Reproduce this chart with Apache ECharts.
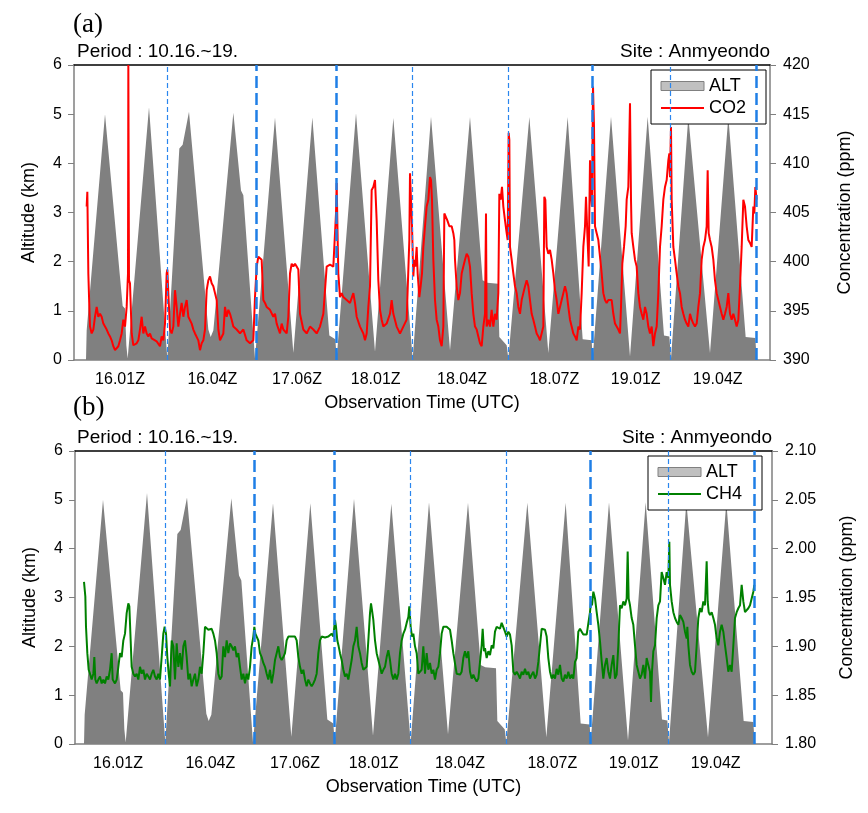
<!DOCTYPE html>
<html><head><meta charset="utf-8">
<script src="https://cdn.jsdelivr.net/npm/echarts@6/dist/echarts.min.js"></script>
<style>html,body{margin:0;padding:0;background:#fff}#c{width:868px;height:813px}</style>
</head><body><div id="c"></div>
<script>
// x = observation sample index (shared by both panels), altitude in km
const altitudeKm = [[78,0],[80,0.6],[135,5.0],[188,1.1],[195,1.05],[199,0.3],[203,0.03],[267,5.14],[322,0.03],[358,4.3],[368,4.38],[387,5.05],[445,0.62],[452,0.47],[460,0.6],[520,5.03],[543,3.45],[550,3.35],[585,0.03],[645,4.93],[700,0.15],[757,4.93],[808,0.5],[826,0.42],[830,0.03],[888,5.02],[945,0.17],[1000,4.92],[1058,0.03],[1113,4.95],[1170,0.2],[1230,4.94],[1268,1.62],[1282,1.57],[1314,1.55],[1318,0.47],[1340,0.3],[1345,0.03],[1408,4.94],[1465,0.14],[1523,4.94],[1568,0.42],[1595,0.4],[1598,0.03],[1653,4.95],[1710,0.07],[1763,4.95],[1812,0.5],[1828,0.48],[1833,0.03],[1885,4.95],[1950,0.14],[2005,4.95],[2057,0.47],[2086,0.45],[2090,0]];

const co2Ppm = [[80,405.6],[82,407.1],[84,407.0],[85,398.8],[88,395.4],[90,393.4],[95,392.7],[100,393.1],[105,394.4],[110,395.4],[115,394.4],[120,394.7],[125,394.4],[130,393.7],[135,393.4],[140,393.1],[145,392.7],[150,392.4],[155,392.0],[160,391.4],[165,391.0],[170,391.2],[175,391.4],[180,392.0],[185,392.7],[190,394.1],[195,393.4],[200,395.4],[204,398.8],[205,420],[207,398.1],[210,397.8],[215,392.7],[220,391.5],[230,391.7],[235,392.0],[240,393.1],[245,394.4],[250,392.7],[255,393.4],[260,392.7],[265,392.4],[270,392.7],[275,392.2],[280,392.0],[290,391.9],[300,391.4],[305,392.4],[310,392.0],[315,393.7],[320,398.8],[322,399.2],[325,396.8],[330,393.1],[335,392.7],[340,393.4],[345,397.1],[350,395.4],[355,393.4],[360,394.7],[365,395.8],[370,394.4],[375,395.4],[380,396.1],[385,394.4],[390,394.4],[395,393.7],[400,393.1],[405,392.7],[410,392.7],[415,392.0],[420,391.0],[425,391.7],[430,392.0],[435,393.1],[440,397.1],[445,398.1],[450,398.5],[455,397.8],[460,397.5],[465,396.8],[470,396.1],[475,393.1],[480,392.0],[485,392.0],[490,392.7],[495,395.4],[500,394.4],[505,395.1],[510,394.7],[515,394.1],[520,393.4],[530,393.1],[540,392.7],[550,393.1],[560,392.0],[570,391.7],[580,392.0],[585,396.4],[590,399.5],[595,400.5],[600,400.7],[605,400.2],[610,396.1],[615,395.8],[620,395.4],[625,395.4],[630,395.1],[640,394.4],[645,394.7],[650,393.7],[660,392.7],[665,393.7],[670,393.1],[680,392.7],[685,394.4],[690,398.8],[695,399.8],[700,399.5],[705,399.8],[710,399.5],[715,399.2],[720,394.7],[730,393.1],[740,392.7],[750,393.4],[760,393.1],[770,392.7],[780,393.4],[790,394.7],[800,399.5],[810,399.7],[820,399.5],[825,399.5],[828,404.9],[830,408.0],[833,402.2],[835,398.8],[840,396.4],[845,396.8],[850,396.4],[860,396.1],[870,395.8],[880,396.8],[885,395.8],[890,394.4],[900,393.4],[910,392.7],[915,392.0],[920,392.7],[925,395.4],[930,397.5],[935,407.3],[940,407.6],[945,408.3],[950,404.2],[955,398.1],[960,395.1],[965,394.1],[970,393.4],[980,393.7],[990,394.7],[995,396.1],[1000,394.7],[1010,393.4],[1020,392.7],[1025,392.7],[1030,393.4],[1040,394.1],[1048,402.2],[1050,409.0],[1053,409.2],[1056,403.6],[1060,398.5],[1063,400.2],[1066,399.5],[1070,401.5],[1073,398.8],[1078,396.4],[1082,397.5],[1086,398.8],[1090,401.5],[1095,403.6],[1100,405.6],[1105,406.3],[1110,408.6],[1113,408.3],[1116,406.3],[1120,400.2],[1125,396.1],[1130,394.1],[1135,393.4],[1140,392.0],[1145,391.4],[1150,393.4],[1153,404.9],[1158,405.1],[1162,404.2],[1168,403.6],[1175,403.6],[1180,402.9],[1183,402.2],[1185,400.2],[1190,397.5],[1195,396.1],[1200,396.8],[1205,398.8],[1210,399.5],[1215,400.2],[1220,400.8],[1225,400.5],[1230,399.5],[1235,396.8],[1240,394.7],[1245,393.4],[1250,393.1],[1255,392.4],[1260,391.7],[1265,391.4],[1270,393.4],[1275,394.7],[1278,404.9],[1280,393.4],[1285,394.1],[1290,393.4],[1295,395.1],[1300,393.4],[1305,394.7],[1310,394.1],[1315,396.8],[1318,406.9],[1322,406.3],[1326,407.6],[1330,405.6],[1335,404.2],[1340,402.9],[1343,402.2],[1346,413.1],[1348,412.4],[1350,401.5],[1355,400.2],[1360,398.8],[1365,397.5],[1370,396.8],[1375,395.4],[1380,394.7],[1385,396.1],[1390,396.8],[1395,397.5],[1400,398.1],[1405,397.5],[1410,396.1],[1415,394.7],[1420,394.1],[1425,393.4],[1430,392.7],[1435,392.4],[1440,392.0],[1445,392.0],[1450,393.4],[1453,406.6],[1456,406.3],[1460,401.5],[1465,400.8],[1470,401.2],[1475,400.2],[1480,398.8],[1485,397.1],[1490,396.1],[1495,394.7],[1500,395.4],[1505,396.1],[1510,396.8],[1515,397.5],[1520,396.8],[1525,395.4],[1530,394.1],[1535,393.4],[1540,392.7],[1545,392.4],[1550,392.0],[1555,393.4],[1560,393.1],[1565,396.8],[1570,401.5],[1575,403.6],[1578,406.6],[1582,402.9],[1586,399.5],[1590,410.3],[1593,406.9],[1596,405.6],[1599,417.8],[1602,413.7],[1605,403.6],[1610,402.9],[1615,402.2],[1620,402.2],[1625,398.8],[1630,396.8],[1635,396.1],[1640,395.8],[1645,396.1],[1650,396.3],[1655,396.1],[1660,394.7],[1665,393.7],[1670,393.4],[1675,393.1],[1680,392.7],[1683,395.4],[1687,399.8],[1692,401.5],[1697,403.6],[1700,406.3],[1705,407.6],[1710,416.1],[1713,406.3],[1715,402.9],[1720,401.5],[1725,400.2],[1730,399.5],[1735,396.8],[1740,395.4],[1745,394.7],[1750,394.1],[1755,395.4],[1760,394.7],[1765,393.4],[1770,392.7],[1775,393.4],[1780,391.4],[1785,392.7],[1790,393.4],[1795,396.8],[1800,401.5],[1805,403.6],[1810,406.3],[1815,407.6],[1820,408.3],[1825,410.3],[1828,411.0],[1830,408.6],[1833,413.7],[1835,406.3],[1840,401.5],[1845,400.2],[1850,398.8],[1855,397.5],[1860,396.8],[1865,395.4],[1870,394.7],[1875,394.1],[1880,393.7],[1885,393.4],[1890,394.7],[1895,394.1],[1900,393.7],[1905,393.4],[1910,393.7],[1915,395.4],[1920,396.8],[1925,400.2],[1930,401.5],[1935,402.2],[1940,403.6],[1943,409.3],[1946,402.9],[1950,402.2],[1955,401.5],[1960,400.2],[1965,398.1],[1970,396.8],[1975,396.1],[1980,395.4],[1985,394.7],[1990,394.1],[1995,394.7],[2000,395.4],[2005,396.8],[2010,394.7],[2015,394.1],[2020,394.7],[2025,394.1],[2030,393.4],[2035,394.1],[2040,397.5],[2045,401.5],[2050,406.3],[2055,405.6],[2060,403.6],[2065,402.2],[2070,401.9],[2075,401.5],[2080,405.6],[2083,404.9],[2086,407.6],[2090,406.3]];

const ch4Ppm = [[78,1.966],[80,1.965],[82,1.951],[84,1.920],[88,1.893],[92,1.876],[96,1.872],[101,1.866],[106,1.872],[109,1.889],[112,1.866],[116,1.862],[121,1.866],[126,1.869],[131,1.862],[136,1.866],[141,1.862],[146,1.869],[151,1.866],[156,1.876],[161,1.893],[164,1.866],[171,1.862],[176,1.866],[181,1.879],[186,1.893],[191,1.889],[196,1.906],[201,1.913],[206,1.934],[211,1.944],[214,1.941],[218,1.906],[221,1.879],[226,1.872],[231,1.869],[236,1.872],[241,1.866],[246,1.879],[251,1.872],[256,1.876],[261,1.866],[266,1.872],[271,1.869],[276,1.866],[281,1.872],[286,1.876],[291,1.869],[296,1.866],[301,1.872],[306,1.866],[311,1.889],[316,1.913],[320,1.920],[324,1.913],[328,1.889],[332,1.872],[336,1.859],[341,1.906],[346,1.900],[351,1.866],[356,1.903],[361,1.879],[366,1.893],[371,1.876],[376,1.900],[381,1.906],[386,1.889],[391,1.866],[396,1.872],[401,1.859],[406,1.866],[411,1.872],[416,1.859],[421,1.866],[426,1.879],[431,1.872],[436,1.893],[441,1.920],[446,1.918],[451,1.917],[456,1.917],[461,1.918],[466,1.913],[471,1.906],[476,1.893],[481,1.872],[486,1.866],[491,1.869],[496,1.900],[501,1.889],[506,1.906],[511,1.893],[516,1.903],[521,1.900],[526,1.896],[531,1.900],[536,1.889],[541,1.893],[546,1.879],[551,1.866],[556,1.872],[561,1.862],[566,1.872],[571,1.866],[576,1.879],[581,1.900],[586,1.910],[589,1.920],[592,1.913],[596,1.912],[601,1.906],[606,1.893],[611,1.889],[616,1.883],[621,1.879],[626,1.872],[631,1.866],[636,1.876],[641,1.862],[646,1.872],[651,1.886],[656,1.893],[661,1.900],[666,1.889],[671,1.886],[676,1.889],[681,1.893],[686,1.906],[691,1.910],[696,1.910],[701,1.910],[706,1.908],[711,1.910],[716,1.906],[721,1.889],[726,1.879],[731,1.872],[736,1.876],[741,1.866],[746,1.859],[751,1.866],[756,1.862],[761,1.859],[766,1.862],[771,1.866],[776,1.872],[781,1.893],[786,1.906],[791,1.910],[796,1.910],[801,1.909],[806,1.910],[811,1.910],[816,1.910],[821,1.913],[826,1.910],[831,1.927],[834,1.920],[838,1.906],[842,1.900],[846,1.893],[851,1.886],[856,1.876],[861,1.869],[866,1.872],[871,1.866],[876,1.876],[881,1.886],[886,1.900],[891,1.906],[896,1.920],[901,1.900],[906,1.893],[911,1.883],[916,1.876],[921,1.876],[926,1.879],[931,1.906],[936,1.934],[939,1.944],[942,1.937],[946,1.927],[951,1.906],[956,1.893],[961,1.886],[966,1.879],[971,1.872],[976,1.876],[981,1.879],[986,1.889],[991,1.896],[996,1.886],[1001,1.872],[1006,1.866],[1011,1.872],[1016,1.866],[1021,1.872],[1026,1.893],[1031,1.906],[1036,1.913],[1041,1.917],[1046,1.924],[1051,1.930],[1054,1.941],[1058,1.920],[1062,1.910],[1066,1.913],[1071,1.900],[1076,1.893],[1081,1.872],[1086,1.872],[1091,1.876],[1096,1.900],[1101,1.872],[1106,1.893],[1111,1.876],[1116,1.883],[1121,1.872],[1126,1.876],[1131,1.866],[1136,1.876],[1141,1.879],[1146,1.893],[1151,1.913],[1156,1.920],[1161,1.922],[1166,1.920],[1171,1.920],[1176,1.917],[1181,1.906],[1186,1.893],[1196,1.872],[1206,1.871],[1211,1.874],[1216,1.888],[1221,1.895],[1226,1.888],[1231,1.895],[1236,1.874],[1241,1.867],[1246,1.871],[1251,1.867],[1256,1.864],[1261,1.867],[1266,1.884],[1271,1.901],[1274,1.918],[1278,1.895],[1281,1.898],[1286,1.888],[1291,1.895],[1296,1.891],[1301,1.901],[1306,1.898],[1311,1.915],[1316,1.920],[1321,1.922],[1326,1.918],[1331,1.924],[1336,1.922],[1341,1.915],[1346,1.910],[1351,1.915],[1356,1.912],[1361,1.901],[1366,1.874],[1371,1.871],[1376,1.874],[1381,1.871],[1386,1.867],[1391,1.874],[1396,1.871],[1401,1.877],[1406,1.871],[1411,1.874],[1416,1.867],[1421,1.871],[1426,1.874],[1431,1.867],[1436,1.871],[1441,1.884],[1446,1.901],[1451,1.918],[1456,1.920],[1461,1.917],[1466,1.910],[1471,1.888],[1476,1.874],[1481,1.867],[1486,1.871],[1491,1.867],[1496,1.877],[1501,1.871],[1506,1.881],[1511,1.867],[1516,1.864],[1521,1.871],[1526,1.867],[1531,1.874],[1536,1.867],[1541,1.871],[1546,1.867],[1551,1.884],[1556,1.888],[1561,1.915],[1566,1.918],[1571,1.915],[1576,1.912],[1581,1.913],[1586,1.912],[1591,1.910],[1596,1.935],[1599,1.946],[1602,1.942],[1606,1.956],[1611,1.949],[1616,1.935],[1621,1.922],[1626,1.905],[1631,1.885],[1636,1.867],[1641,1.881],[1646,1.888],[1651,1.874],[1656,1.867],[1661,1.881],[1666,1.891],[1671,1.867],[1676,1.871],[1681,1.901],[1686,1.942],[1691,1.939],[1696,1.946],[1701,1.942],[1706,1.949],[1709,1.997],[1712,1.949],[1716,1.942],[1721,1.929],[1726,1.922],[1731,1.901],[1736,1.881],[1741,1.874],[1746,1.867],[1751,1.871],[1756,1.881],[1761,1.867],[1766,1.888],[1771,1.881],[1776,1.874],[1779,1.843],[1782,1.874],[1786,1.895],[1791,1.901],[1796,1.929],[1801,1.942],[1806,1.946],[1811,1.976],[1816,1.970],[1821,1.963],[1826,1.976],[1831,1.970],[1834,2.007],[1836,1.963],[1841,1.946],[1846,1.935],[1851,1.929],[1856,1.925],[1861,1.922],[1866,1.932],[1871,1.929],[1876,1.925],[1881,1.915],[1886,1.908],[1888,1.920],[1891,1.901],[1896,1.881],[1901,1.874],[1906,1.871],[1911,1.874],[1916,1.901],[1921,1.929],[1926,1.939],[1931,1.935],[1936,1.946],[1941,1.942],[1946,1.987],[1949,1.946],[1952,1.935],[1956,1.932],[1961,1.935],[1966,1.929],[1971,1.922],[1976,1.908],[1981,1.901],[1986,1.915],[1991,1.922],[1996,1.915],[2001,1.901],[2006,1.888],[2011,1.874],[2016,1.881],[2021,1.874],[2026,1.901],[2031,1.929],[2036,1.935],[2041,1.939],[2046,1.942],[2051,1.963],[2056,1.946],[2061,1.935],[2066,1.935],[2071,1.939],[2076,1.942],[2081,1.949],[2086,1.956],[2089,1.963]];

const flightLabels = ['16.01Z','16.04Z','17.06Z','18.01Z','18.04Z','18.07Z','19.01Z','19.04Z'];
const flightLabelPos = [180, 457, 711, 947, 1206, 1483, 1727, 1973];
const boundaryPos = [322, 590, 830, 1057, 1345, 1598, 1832, 2090];
const boundaryMajor = [false, true, true, false, false, true, false, true];

const FONT = "'Liberation Sans', Arial, Helvetica, sans-serif";
const SERIF = "'Liberation Serif', 'DejaVu Serif', serif";
const GRAY = '#7f7f7f';

const chart = echarts.init(document.getElementById('c'));

function boundaryLines() {
  return boundaryPos.map((x, i) => ({
    xAxis: x,
    lineStyle: boundaryMajor[i]
      ? { color: '#1f7fe6', width: 2.5, type: [12, 5] }
      : { color: '#2a86ee', width: 1.2, type: [5, 3] }
  }));
}

function xAxes(grid, min, max) {
  return [
    { gridIndex: grid, type: 'value', position: 'bottom', min: min, max: max,
      axisLine: { lineStyle: { color: GRAY, width: 1.5 } }, axisTick: { show: false }, splitLine: { show: false },
      axisLabel: { customValues: flightLabelPos, formatter: v => { const i = flightLabelPos.indexOf(v); return i >= 0 ? flightLabels[i] : ''; },
        fontSize: 16, color: '#000', margin: 12, fontFamily: FONT },
      name: 'Observation Time (UTC)', nameLocation: 'middle', nameGap: 34,
      nameTextStyle: { fontSize: 18, color: '#000', fontFamily: FONT } },
    { gridIndex: grid, type: 'value', position: 'top', min: min, max: max,
      axisLine: { lineStyle: { color: '#000', width: 1.5 } }, axisTick: { show: false },
      axisLabel: { show: false }, splitLine: { show: false } }
  ];
}

function yAxes(grid, rmin, rmax, rint, digits) {
  return [
    { gridIndex: grid, type: 'value', position: 'left', min: 0, max: 6, interval: 1,
      axisLine: { show: true, lineStyle: { color: GRAY, width: 1.5 } },
      axisTick: { show: true, length: 6, lineStyle: { color: GRAY } },
      axisLabel: { fontSize: 16, color: '#000', margin: 12, fontFamily: FONT },
      splitLine: { show: false },
      name: 'Altitude (km)', nameLocation: 'middle', nameGap: 36, nameRotate: 90,
      nameTextStyle: { fontSize: 18, color: '#000', fontFamily: FONT } },
    { gridIndex: grid, type: 'value', position: 'right', min: rmin, max: rmax, interval: rint,
      axisLine: { show: true, lineStyle: { color: GRAY, width: 1.5 } },
      axisTick: { show: true, length: 6, lineStyle: { color: GRAY } },
      axisLabel: { fontSize: 16, color: '#000', margin: 13, fontFamily: FONT, formatter: v => v.toFixed(digits) },
      splitLine: { show: false },
      name: 'Concentration (ppm)', nameLocation: 'middle', nameGap: 66, nameRotate: 90,
      nameTextStyle: { fontSize: 18, color: '#000', fontFamily: FONT } }
  ];
}

function legend(left, top, gas) {
  return { left: left, top: top, orient: 'vertical', selectedMode: false,
    data: [ { name: 'ALT', icon: 'rect', itemStyle: { color: '#c0c0c0', borderColor: '#808080', borderWidth: 1 } },
            { name: gas, itemStyle: { opacity: 0 } } ],
    itemWidth: 43, itemHeight: 9, itemGap: 4, padding: [7, 20, 7, 9],
    backgroundColor: '#fff', borderColor: '#000', borderWidth: 1,
    textStyle: { fontSize: 18, color: '#000', fontFamily: FONT } };
}

function titleText(text, pos, top, font, size) {
  return Object.assign({ text: text, top: top, padding: 0,
    textStyle: { fontFamily: font, fontSize: size, fontWeight: 'normal', color: '#000' } }, pos);
}

function panelSeries(xi, yl, yr, gasName, gasData, color) {
  return [
    { name: 'ALT', type: 'line', xAxisIndex: xi, yAxisIndex: yl, data: altitudeKm, symbol: 'none',
      lineStyle: { width: 0 }, itemStyle: { color: '#c0c0c0' }, areaStyle: { color: '#808080', opacity: 1 }, z: 1, silent: true },
    { type: 'line', xAxisIndex: xi, yAxisIndex: yl, data: [], z: 2, silent: true,
      markLine: { symbol: ['none', 'none'], label: { show: false }, silent: true, animation: false, data: boundaryLines() } },
    { name: gasName, type: 'line', xAxisIndex: xi, yAxisIndex: yr, data: gasData, symbol: 'none',
      lineStyle: { color: color, width: 2 }, itemStyle: { color: color }, z: 3 }
  ];
}

chart.setOption({
  animation: false,
  backgroundColor: '#fff',
  title: [
    titleText('(a)', { left: 73 }, 11, SERIF, 27),
    titleText('Period : 10.16.~19.', { left: 77 }, 42, FONT, 19),
    titleText('Site : Anmyeondo', { right: 98 }, 42, FONT, 19),
    titleText('(b)', { left: 73 }, 394, SERIF, 27),
    titleText('Period : 10.16.~19.', { left: 77 }, 428, FONT, 19),
    titleText('Site : Anmyeondo', { right: 96 }, 428, FONT, 19)
  ],
  legend: [ legend(651, 70, 'CO2'), legend(648, 456, 'CH4') ],
  grid: [
    { left: 74, top: 65, width: 696, height: 295 },
    { left: 75, top: 451, width: 697, height: 293 }
  ],
  xAxis: [].concat(xAxes(0, 42, 2130), xAxes(1, 51, 2142)),
  yAxis: [].concat(yAxes(0, 390, 420, 5, 0), yAxes(1, 1.8, 2.1, 0.05, 2)),
  series: [].concat(
    panelSeries(0, 0, 1, 'CO2', co2Ppm, '#ff0000'),
    panelSeries(2, 2, 3, 'CH4', ch4Ppm, '#008000')
  )
});
</script>
</body></html>
